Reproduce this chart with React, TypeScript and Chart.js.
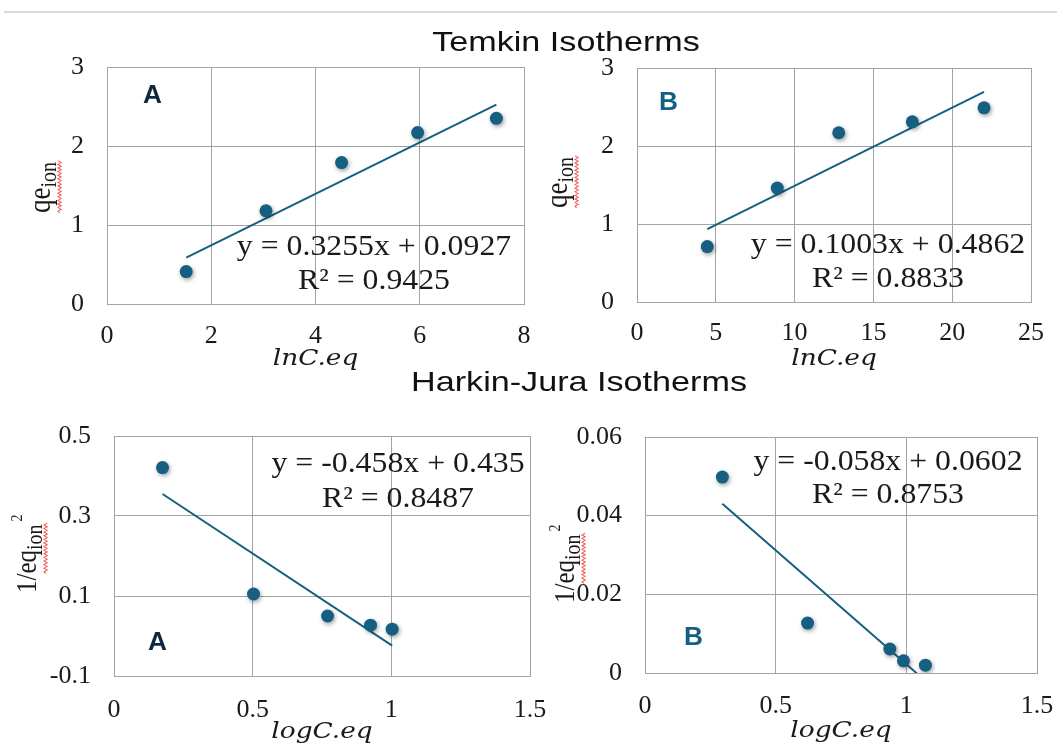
import React, { useEffect, useRef } from 'react';
import { Chart, registerables } from 'chart.js';

Chart.register(...registerables);

// ---------------- data ----------------
// Temkin A
const temkinA_x = [1.52, 3.05, 4.5, 5.96, 7.47];
const temkinA_y = [0.41, 1.18, 1.79, 2.17, 2.35];
const temkinA_trendX = [1.52, 7.47];
const temkinA_trendY = [0.587, 2.524];
const temkinA_xTicks = [0, 2, 4, 6, 8];
const temkinA_xLabels = ['0', '2', '4', '6', '8'];
const temkinA_yTicks = [0, 1, 2, 3];
const temkinA_yLabels = ['0', '1', '2', '3'];
const temkinA_eq = ['y = 0.3255x + 0.0927', 'R² = 0.9425'];

// Temkin B
const temkinB_x = [4.46, 8.9, 12.8, 17.47, 22.02];
const temkinB_y = [0.71, 1.46, 2.17, 2.31, 2.49];
const temkinB_trendX = [4.46, 22.02];
const temkinB_trendY = [0.933, 2.695];
const temkinB_xTicks = [0, 5, 10, 15, 20, 25];
const temkinB_xLabels = ['0', '5', '10', '15', '20', '25'];
const temkinB_yTicks = [0, 1, 2, 3];
const temkinB_yLabels = ['0', '1', '2', '3'];
const temkinB_eq = ['y = 0.1003x + 0.4862', 'R² = 0.8833'];

// Harkin-Jura A
const harkinA_x = [0.175, 0.503, 0.77, 0.925, 1.003];
const harkinA_y = [0.421, 0.105, 0.05, 0.027, 0.017];
const harkinA_trendX = [0.175, 1.003];
const harkinA_trendY = [0.355, -0.024];
const harkinA_xTicks = [0, 0.5, 1, 1.5];
const harkinA_xLabels = ['0', '0.5', '1', '1.5'];
const harkinA_yTicks = [-0.1, 0.1, 0.3, 0.5];
const harkinA_yLabels = ['-0.1', '0.1', '0.3', '0.5'];
const harkinA_eq = ['y = -0.458x + 0.435', 'R² = 0.8487'];

// Harkin-Jura B
const harkinB_x = [0.296, 0.622, 0.937, 0.989, 1.073];
const harkinB_y = [0.0498, 0.0127, 0.0061, 0.0031, 0.002];
const harkinB_trendX = [0.296, 1.073];
const harkinB_trendY = [0.043, -0.002];
const harkinB_xTicks = [0, 0.5, 1, 1.5];
const harkinB_xLabels = ['0', '0.5', '1', '1.5'];
const harkinB_yTicks = [0, 0.02, 0.04, 0.06];
const harkinB_yLabels = ['0', '0.02', '0.04', '0.06'];
const harkinB_eq = ['y = -0.058x + 0.0602', 'R² = 0.8753'];

const titleTop = 'Temkin Isotherms';
const titleBottom = 'Harkin-Jura Isotherms';

// ---------------- styles ----------------
const MARK = '#156082';
const GRID = '#a3a3a3';
const NAVY = '#0E2841';
const TEXT = '#1a1a1a';
const SERIF = '"Liberation Serif", "Times New Roman", serif';
const ITALIC = '"DejaVu Serif", serif';
const SANS = '"Liberation Sans", Arial, sans-serif';
const SX = 1.2; // horizontal stretch of text seen in the picture

type YPart = { text: string; size: number; dy: number; gap?: number };
type Spec = {
  id: string;
  box: [number, number, number, number];
  plot: [number, number, number, number];
  xs: number[]; ys: number[]; tx: number[]; ty: number[];
  xMin: number; xMax: number; yMin: number; yMax: number;
  xTicks: number[]; xLabels: string[]; yTicks: number[]; yLabels: string[];
  xPad: number; yPad: number;
  eq: string[]; eqCx: number; eqBase: [number, number];
  letter: string; letterColor: string; letterPos: [number, number];
  xTitle: string; xTitleBase: number;
  yParts: YPart[]; yBaseX: number; yStartY: number; wavySkip: string;
};

const specs: Spec[] = [
  {
    id: 'tA', box: [0, 50, 545, 330], plot: [107, 67, 524, 304],
    xs: temkinA_x, ys: temkinA_y, tx: temkinA_trendX, ty: temkinA_trendY,
    xMin: 0, xMax: 8, yMin: 0, yMax: 3,
    xTicks: temkinA_xTicks, xLabels: temkinA_xLabels, yTicks: temkinA_yTicks, yLabels: temkinA_yLabels,
    xPad: 17, yPad: 23,
    eq: temkinA_eq, eqCx: 374, eqBase: [255, 289],
    letter: 'A', letterColor: NAVY, letterPos: [143, 103],
    xTitle: 'lnC.eq', xTitleBase: 365,
    yParts: [{ text: 'qe', size: 27, dy: 0 }, { text: 'ion', size: 20, dy: 5 }],
    yBaseX: 50, yStartY: 213, wavySkip: '',
  },
  {
    id: 'tB', box: [545, 50, 512, 330], plot: [637, 68, 1031, 302],
    xs: temkinB_x, ys: temkinB_y, tx: temkinB_trendX, ty: temkinB_trendY,
    xMin: 0, xMax: 25, yMin: 0, yMax: 3,
    xTicks: temkinB_xTicks, xLabels: temkinB_xLabels, yTicks: temkinB_yTicks, yLabels: temkinB_yLabels,
    xPad: 16, yPad: 23,
    eq: temkinB_eq, eqCx: 888, eqBase: [253, 287],
    letter: 'B', letterColor: MARK, letterPos: [659, 110],
    xTitle: 'lnC.eq', xTitleBase: 365,
    yParts: [{ text: 'qe', size: 27, dy: 0 }, { text: 'ion', size: 20, dy: 5 }],
    yBaseX: 567, yStartY: 208, wavySkip: '',
  },
  {
    id: 'hA', box: [0, 410, 553, 337], plot: [114, 436, 530, 676],
    xs: harkinA_x, ys: harkinA_y, tx: harkinA_trendX, ty: harkinA_trendY,
    xMin: 0, xMax: 1.5, yMin: -0.1, yMax: 0.5,
    xTicks: harkinA_xTicks, xLabels: harkinA_xLabels, yTicks: harkinA_yTicks, yLabels: harkinA_yLabels,
    xPad: 19, yPad: 23,
    eq: harkinA_eq, eqCx: 398, eqBase: [472, 507],
    letter: 'A', letterColor: NAVY, letterPos: [148, 650],
    xTitle: 'logC.eq', xTitleBase: 738,
    yParts: [{ text: '1/eq', size: 25, dy: 0 }, { text: 'ion', size: 20, dy: 5 }, { text: '2', size: 14, dy: -12, gap: 3 }],
    yBaseX: 36, yStartY: 593, wavySkip: '1/',
  },
  {
    id: 'hB', box: [545, 410, 512, 337], plot: [645, 437, 1037, 673],
    xs: harkinB_x, ys: harkinB_y, tx: harkinB_trendX, ty: harkinB_trendY,
    xMin: 0, xMax: 1.5, yMin: 0, yMax: 0.06,
    xTicks: harkinB_xTicks, xLabels: harkinB_xLabels, yTicks: harkinB_yTicks, yLabels: harkinB_yLabels,
    xPad: 18, yPad: 23,
    eq: harkinB_eq, eqCx: 888, eqBase: [470, 503],
    letter: 'B', letterColor: MARK, letterPos: [684, 645],
    xTitle: 'logC.eq', xTitleBase: 737,
    yParts: [{ text: '1/eq', size: 25, dy: 0 }, { text: 'ion', size: 20, dy: 5 }, { text: '2', size: 14, dy: -12, gap: 3 }],
    yBaseX: 574, yStartY: 603, wavySkip: '1/',
  },
];

function wavy(ctx: CanvasRenderingContext2D, x0: number, x1: number, y: number) {
  const amp = 1.3;
  const step = 1.8;
  ctx.beginPath();
  ctx.moveTo(x0, y);
  let up = true;
  for (let x = x0; x < x1; x += step) {
    ctx.lineTo(x + step, y + (up ? -amp : amp));
    up = !up;
  }
  ctx.strokeStyle = '#f25a5a';
  ctx.lineWidth = 1;
  ctx.stroke();
}

function ChartPanel({ spec }: { spec: Spec }) {
  const ref = useRef<HTMLCanvasElement | null>(null);
  const [L, T, W, H] = spec.box;
  useEffect(() => {
    const canvas = ref.current;
    if (!canvas) return;
    const [pl, pt, pr, pb] = spec.plot;

    const custom = {
      id: 'custom_' + spec.id,
      beforeDatasetDraw(chart: any, args: any) {
        if (args.index === 0) {
          const c = chart.ctx;
          c.save();
          c.shadowColor = 'rgba(0,0,0,0.38)';
          c.shadowBlur = 4;
          c.shadowOffsetX = 1.2;
          c.shadowOffsetY = 1.8;
        }
      },
      afterDatasetDraw(chart: any, args: any) {
        if (args.index === 0) chart.ctx.restore();
      },
      afterDraw(chart: any) {
        const c: CanvasRenderingContext2D = chart.ctx;
        // equation
        c.save();
        c.fillStyle = TEXT;
        c.font = `30px ${SERIF}`;
        c.textAlign = 'center';
        c.textBaseline = 'alphabetic';
        spec.eq.forEach((line, i) => {
          c.save();
          c.translate(spec.eqCx - L, spec.eqBase[i] - T);
          c.scale(1.06, 1);
          c.fillText(line, 0, 0);
          c.restore();
        });
        c.restore();

        // panel letter
        c.save();
        c.fillStyle = spec.letterColor;
        c.font = `bold 25px ${SANS}`;
        c.textAlign = 'left';
        c.textBaseline = 'alphabetic';
        c.translate(spec.letterPos[0] - L, spec.letterPos[1] - T);
        c.scale(1.05, 1);
        c.fillText(spec.letter, 0, 0);
        c.restore();

        // x title
        c.save();
        c.fillStyle = TEXT;
        c.font = `italic 22px ${ITALIC}`;
        c.textAlign = 'center';
        c.textBaseline = 'alphabetic';
        c.translate((pl + pr) / 2 - L, spec.xTitleBase - T);
        c.scale(SX, 1);
        c.fillText(spec.xTitle, 0, 0);
        c.restore();

        // y title (rotated)
        c.save();
        c.fillStyle = TEXT;
        c.textBaseline = 'alphabetic';
        c.textAlign = 'left';
        c.translate(spec.yBaseX - L, spec.yStartY - T);
        c.scale(SX, 1);
        c.rotate(-Math.PI / 2);
        let x = 0;
        let wStart = 0;
        let wEnd = 0;
        spec.yParts.forEach((p, i) => {
          c.font = `${p.size}px ${SERIF}`;
          if (i === 0 && spec.wavySkip) wStart = c.measureText(spec.wavySkip).width;
          const px = x + (p.gap || 0);
          c.fillText(p.text, px, p.dy);
          const w = c.measureText(p.text).width;
          if (i <= 1) wEnd = px + w;
          x = px + w;
        });
        wavy(c, wStart, wEnd, 8);
        c.restore();
      },
    };

    const zeroPad = (s: any) => {
      s.paddingTop = 0;
      s.paddingBottom = 0;
      s.paddingLeft = 0;
      s.paddingRight = 0;
    };

    const tickFont = { family: SERIF, size: 26 };
    const chart = new Chart(canvas, {
      type: 'scatter',
      data: {
        datasets: [
          {
            type: 'scatter',
            data: spec.xs.map((x, i) => ({ x, y: spec.ys[i] })),
            pointRadius: 6.5,
            pointHoverRadius: 6.5,
            pointBackgroundColor: MARK,
            pointBorderWidth: 0,
            showLine: false,
          } as any,
          {
            type: 'line',
            data: spec.tx.map((x, i) => ({ x, y: spec.ty[i] })),
            borderColor: MARK,
            borderWidth: 2,
            pointRadius: 0,
            fill: false,
            tension: 0,
          } as any,
        ],
      },
      options: {
        responsive: false,
        animation: false,
        devicePixelRatio: 1,
        events: [],
        layout: { padding: { left: 0, top: pt - T, right: L + W - pr, bottom: 0 } },
        plugins: { legend: { display: false }, tooltip: { enabled: false }, title: { display: false } },
        scales: {
          x: {
            type: 'linear',
            position: 'bottom',
            min: spec.xMin,
            max: spec.xMax,
            afterBuildTicks: (s: any) => {
              s.ticks = spec.xTicks.map((v) => ({ value: v }));
            },
            afterFit: (s: any) => {
              s.height = T + H - pb;
              zeroPad(s);
            },
            ticks: {
              callback: (v: any) => {
                const i = spec.xTicks.indexOf(v);
                return i >= 0 ? spec.xLabels[i] : '';
              },
              font: tickFont,
              color: TEXT,
              padding: spec.xPad,
              maxRotation: 0,
              minRotation: 0,
              autoSkip: false,
            },
            grid: { color: GRID, lineWidth: 1, drawTicks: false },
            border: { color: GRID, width: 1 },
          },
          y: {
            type: 'linear',
            min: spec.yMin,
            max: spec.yMax,
            afterBuildTicks: (s: any) => {
              s.ticks = spec.yTicks.map((v) => ({ value: v }));
            },
            afterFit: (s: any) => {
              s.width = pl - L;
              zeroPad(s);
            },
            ticks: {
              callback: (v: any) => {
                const i = spec.yTicks.indexOf(v);
                return i >= 0 ? spec.yLabels[i] : '';
              },
              font: tickFont,
              color: TEXT,
              padding: spec.yPad,
              autoSkip: false,
            },
            grid: { color: GRID, lineWidth: 1, drawTicks: false },
            border: { color: GRID, width: 1 },
          },
        },
      } as any,
      plugins: [custom],
    });
    return () => chart.destroy();
  }, []);
  return (
    <canvas
      ref={ref}
      width={W}
      height={H}
      style={{ position: 'absolute', left: L, top: T, width: W, height: H }}
    />
  );
}

function Title({ text, cx, top }: { text: string; cx: number; top: number }) {
  return (
    <div
      style={{
        position: 'absolute',
        left: cx,
        top,
        fontFamily: SANS,
        fontSize: 28,
        lineHeight: '28px',
        color: '#111',
        whiteSpace: 'nowrap',
        transform: 'translateX(-50%) scaleX(1.22)',
        transformOrigin: 'center',
        zIndex: 2,
      }}
    >
      {text}
    </div>
  );
}

export default function App() {
  return (
    <div
      style={{
        position: 'fixed',
        left: 0,
        top: 0,
        width: 1057,
        height: 747,
        background: '#ffffff',
        overflow: 'hidden',
      }}
    >
      <div style={{ position: 'absolute', left: 4, top: 11, width: 1053, height: 2, background: '#d9d9d9' }} />
      {specs.map((s) => (
        <ChartPanel key={s.id} spec={s} />
      ))}
      <Title text={titleTop} cx={566} top={28} />
      <Title text={titleBottom} cx={579} top={368} />
    </div>
  );
}
